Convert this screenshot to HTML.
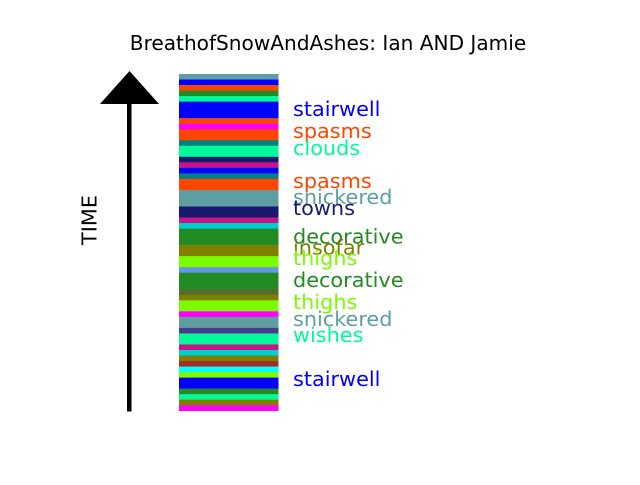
<!DOCTYPE html>
<html><head><meta charset="utf-8"><style>
body{margin:0;background:#fff;}
svg text{font-family:"DejaVu Sans","Liberation Sans",sans-serif;}
</style></head><body>
<svg id="chart" width="640" height="480" viewBox="0 0 640 480">
<rect width="640" height="480" fill="#fff"/>
<text x="328" y="50" font-size="20.1" text-anchor="middle" fill="#000">BreathofSnowAndAshes: Ian AND Jamie</text>
<rect x="127" y="102" width="4.5" height="309.5" fill="#000"/>
<polygon points="100,104 159,104 129.5,71" fill="#000"/>
<text x="0" y="0" font-size="20.8" text-anchor="middle" fill="#000" transform="translate(96.5,220) rotate(-90)">TIME</text>
<g id="stripes"></g>
<g id="labels"></g>
</svg>
<script>
// segments listed top (latest) to bottom (earliest); durations in time units
const segDurations = [1,1,1,1,1,3,1,1,2,1,2,1,1,1,1,2,3,2,1,1,3,2,2,1,3,1,1,2,1,2,1,2,1,1,1,1,1,1,2,1,1,1,1];
const segColors = ["#5f9ea0","#0000ff","#ff4500","#228b22","#00fa9a","#0000ff","#ff4500","#ff00ff","#ff4500","#008080","#00fa9a","#191970","#c71585","#0000ff","#008080","#ff4500","#5f9ea0","#191970","#c71585","#00ced1","#228b22","#808000","#7cfc00","#6495ed","#228b22","#556b2f","#808000","#7cfc00","#ff00ff","#5f9ea0","#483d8b","#00fa9a","#c71585","#00ced1","#808000","#a52a2a","#00ffff","#7cfc00","#0000ff","#228b22","#00fa9a","#808000","#ff00ff"];
const labelTexts = ["stairwell","spasms","clouds","spasms","snickered","towns","decorative","insofar","thighs","decorative","thighs","snickered","wishes","stairwell"];
const labelTimes = [54.7,50.7,47.6,41.6,38.7,36.7,31.6,29.6,27.7,23.7,19.7,16.6,13.7,5.7];
const labelColors = ["#0000ff","#ff4500","#00fa9a","#ff4500","#5f9ea0","#191970","#228b22","#808000","#7cfc00","#228b22","#7cfc00","#5f9ea0","#00fa9a","#0000ff"];

const NS="http://www.w3.org/2000/svg";
const total = segDurations.reduce((a,b)=>a+b,0);
const yTop=74, yBot=410.7;
function yScale(t){ return yBot - t*(yBot-yTop)/total; }
const sg=document.getElementById('stripes');
let acc=total;
segDurations.forEach((d,i)=>{
  const r=document.createElementNS(NS,'rect');
  r.setAttribute('x',179); r.setAttribute('width',99.5);
  r.setAttribute('y',yScale(acc)); r.setAttribute('height',yScale(acc-d)-yScale(acc)+0.3);
  r.setAttribute('fill',segColors[i]);
  
  
  sg.appendChild(r);
  acc-=d;
});
const lg=document.getElementById('labels');
labelTexts.forEach((s,i)=>{
  const t=document.createElementNS(NS,'text');
  t.setAttribute('x',293); t.setAttribute('y',yScale(labelTimes[i])+7);
  t.setAttribute('font-size',20.8); t.setAttribute('fill',labelColors[i]);
  t.textContent=s;
  
  
  lg.appendChild(t);
});
</script>
</body></html>
